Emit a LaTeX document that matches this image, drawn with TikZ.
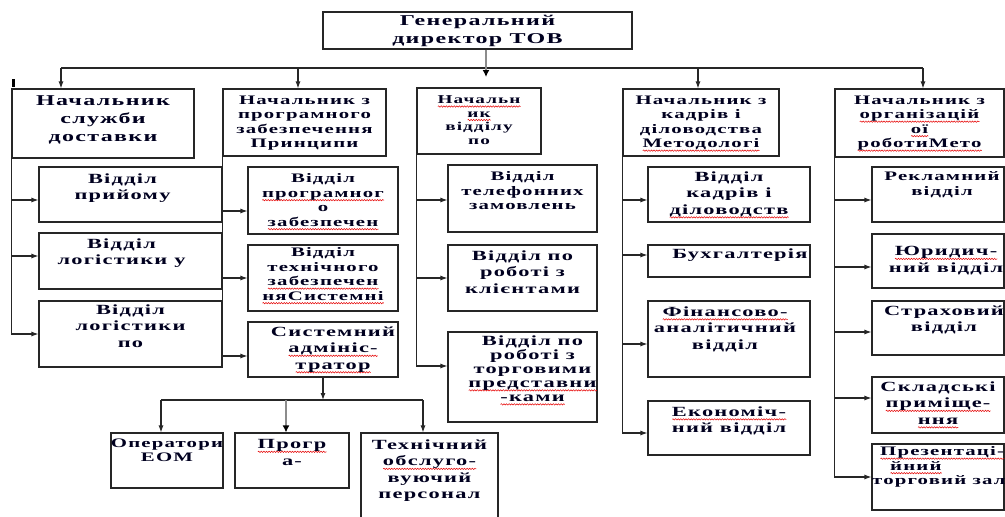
\documentclass[tikz,border=0pt]{standalone}
\usepackage{fontspec}
\setmainfont{Liberation Serif}[FakeStretch=1.6,LetterSpace=9]
\usetikzlibrary{arrows.meta,decorations.pathmorphing}
\newsavebox\rwbox
\newlength\rwlen
\newcommand\redwv[1]{\sbox\rwbox{#1}\setlength\rwlen{\wd\rwbox}\leavevmode\rlap{\tikz[x=1pt,y=1pt,baseline=0pt]\draw[red!90!black, line width=0.5pt, decorate, decoration={snake, amplitude=0.7pt, segment length=2.6pt}] (0pt,-3pt) -- (\rwlen,-3pt);}\usebox\rwbox}
\tikzset{
  boxst/.style={draw=black!85, line width=1.1pt, inner sep=0pt},
  txt/.style={anchor=north, align=center, inner sep=0pt, text=black!88!blue},
  ln/.style={draw=black!85, line width=1.1pt},
  arr/.style={ln, -{Latex[length=7pt,width=5pt]}},
  garr/.style={draw=black!45, line width=2.2pt, -{Latex[length=7pt,width=7pt,color=black]}},
  f15/.style={font=\bfseries\fontsize{15}{18}\selectfont},
  f14/.style={font=\bfseries\fontsize{14}{16.5}\selectfont},
  f14t/.style={font=\bfseries\fontsize{14}{14}\selectfont},
  f12/.style={font=\bfseries\fontsize{13}{14.5}\selectfont},
  f11/.style={font=\bfseries\fontsize{12}{13.5}\selectfont},
}
\newcommand{\mkbox}[7]{%
  \node[boxst, minimum width={#4-#2}, minimum height={#5-#3}] (#1) at ({(#2+#4)/2},{(#3+#5)/2}) {};
  \node[txt, #6] (#1t) at (#1.north) {#7};
}
\newcommand{\branch}[3]{%
  \coordinate (#2a) at ([yshift=#3pt]#2.west);
  \draw[arr] (#1.south west |- #2a) -- (#2a);
}
\begin{document}
\begin{tikzpicture}[x=1pt,y=-1pt]
\useasboundingbox (0,0) rectangle (1005,517);
% director
\node[boxst, minimum width=309, minimum height=37] (dir) at (477.5,30.5) {};
\node[txt, anchor=center, font=\bfseries\fontsize{15}{18}\selectfont] (dirt) at (dir.center) {Генеральний\\директор ТОВ};
% heads
\mkbox{b1}{12}{89}{194}{158}{f15, yshift=-7pt}{Начальник\\служби\\доставки}
\mkbox{b2}{223}{89}{386}{156}{f12, yshift=-7pt}{Начальник з\\програмного\\забезпечення\\Принципи}
\mkbox{b3}{417}{88}{541}{154}{f11, yshift=-8pt}{\redwv{Начальн}\\\redwv{ик}\\відділу\\по}
\mkbox{b4}{623}{89}{779}{156}{f12, yshift=-7pt}{Начальник з\\кадрів і\\діловодства\\\redwv{Методологі}}
\mkbox{b5}{835}{89}{1004}{157}{f12, yshift=-7pt}{Начальник з\\\redwv{організацій}\\\redwv{ої}\\\redwv{роботиМето}}
% column 1
\mkbox{b11}{39}{167}{222}{222}{f14, yshift=-7pt, xshift=-8pt}{Відділ\\прийому}
\mkbox{b12}{39}{233}{222}{289}{f14, yshift=-6pt, xshift=-9pt}{Відділ\\логістики у}
\mkbox{b13}{39}{301}{222}{367}{f14, yshift=-4pt}{Відділ\\логістики\\по}
% column 2
\mkbox{b21}{248}{167}{398}{234}{f12, yshift=-7pt}{Відділ\\\redwv{програмног}\\о\\\redwv{забезпечен}}
\mkbox{b22}{248}{245}{398}{311}{f12, yshift=-3pt}{Відділ\\технічного\\\redwv{забезпечен}\\\redwv{няСистемні}}
\mkbox{b23}{248}{322}{398}{377}{f14, yshift=-5pt, xshift=10pt}{Системний\\\redwv{адмініс-}\\\redwv{тратор}}
% column 3
\mkbox{b31}{448}{165}{597}{232}{f12, yshift=-7pt}{Відділ\\телефонних\\замовлень}
\mkbox{b32}{448}{245}{597}{311}{f14, yshift=-6pt}{Відділ по\\роботі з\\клієнтами}
\mkbox{b33}{448}{332}{597}{422}{f14t, yshift=-4pt, xshift=10pt}{Відділ по\\роботі з\\торговими\\\redwv{представни}\\\redwv{-ками}}
% column 4
\mkbox{b41}{648}{167}{810}{222}{f14, yshift=-5pt}{Відділ\\кадрів і\\\redwv{діловодств}}
\mkbox{b42}{648}{245}{810}{277}{f14, yshift=-4pt, xshift=11pt}{Бухгалтерія}
\mkbox{b43}{648}{301}{810}{377}{f14, yshift=-6pt, xshift=-4pt}{\redwv{Фінансово-}\\аналітичний\\відділ}
\mkbox{b44}{648}{401}{810}{455}{f14, yshift=-6pt}{\redwv{Економіч-}\\ний відділ}
% column 5
\mkbox{b51}{872}{167}{1004}{222}{f12, yshift=-5pt, xshift=4pt}{Рекламний\\відділ}
\mkbox{b52}{872}{234}{1004}{288}{f14, yshift=-13pt, xshift=8pt}{\redwv{Юридич-}\\ний відділ}
\mkbox{b53}{872}{301}{1004}{355}{f14, yshift=-5pt, xshift=6pt}{Страховий\\відділ}
\mkbox{b54}{872}{377}{1004}{433}{f14, yshift=-5pt}{Складські\\\redwv{приміще-}\\\redwv{ння}}
\mkbox{b55}{872}{444}{1004}{510}{f12, yshift=-3pt, anchor=north west, align=left, xshift=-66pt}{\hspace*{8pt}\redwv{Презентаці-}\\\hspace*{18pt}\redwv{йний}\\торговий зал}
% bottom row
\mkbox{c1}{111}{433}{223}{488}{f12, yshift=-6pt}{Оператори\\ЕОМ}
\mkbox{c2}{235}{433}{349}{488}{f14, yshift=-7pt}{\redwv{Прогр}\\а-}
\mkbox{c3}{361}{433}{498}{525}{f14, yshift=-7pt}{Технічний\\\redwv{обслуго-}\\вуючий\\персонал}
% small mark
\fill[black] (11.5,79) rectangle (14.5,87);
% top distribution line
\coordinate (t1) at (61,68);
\coordinate (t2) at (298,68);
\coordinate (t3) at (486,77);
\coordinate (t4) at (698,68);
\coordinate (t5) at (923,68);
\draw[ln] (t1) -- (t5);
\draw[arr] (t1) -- (t1 |- b1.north);
\draw[arr] (t2) -- (t2 |- b2.north);
\draw[arr] (t4) -- (t4 |- b4.north);
\draw[arr] (t5) -- (t5 |- b5.north);
\draw[garr] (dir.south -| t3) -- (t3);
% branches
\branch{b1}{b11}{-5.5}
\branch{b1}{b12}{5}
\branch{b1}{b13}{0}
\draw[ln] (b1.south west) -- (b1.south west |- b13a);
\branch{b2}{b21}{-10.5}
\branch{b2}{b22}{0}
\branch{b2}{b23}{-6.5}
\draw[ln] (b2.south west) -- (b2.south west |- b23a);
\branch{b3}{b31}{-1.5}
\branch{b3}{b32}{0}
\branch{b3}{b33}{11}
\draw[ln] (b3.south west) -- (b3.south west |- b33a);
\branch{b4}{b41}{-5.5}
\branch{b4}{b42}{6}
\branch{b4}{b43}{-5}
\branch{b4}{b44}{-5}
\draw[ln] (b4.south west) -- (b4.south west |- b44a);
\branch{b5}{b51}{-5.5}
\branch{b5}{b52}{-6}
\branch{b5}{b53}{-4}
\branch{b5}{b54}{7}
\branch{b5}{b55}{0}
\draw[ln] (b5.south west) -- (b5.south west |- b55a);
% system administrator subordinates
\coordinate (s0) at (323,400);
\coordinate (s1) at (161,400);
\coordinate (s2) at (286,400);
\coordinate (s3) at (423,400);
\draw[ln] (s1) -- (s3);
\draw[arr] (b23.south -| s0) -- (s0);
\draw[arr] (s1) -- (s1 |- c1.north);
\draw[garr] (s2) -- (s2 |- c2.north);
\draw[arr] (s3) -- (s3 |- c3.north);
\end{tikzpicture}
\end{document}
